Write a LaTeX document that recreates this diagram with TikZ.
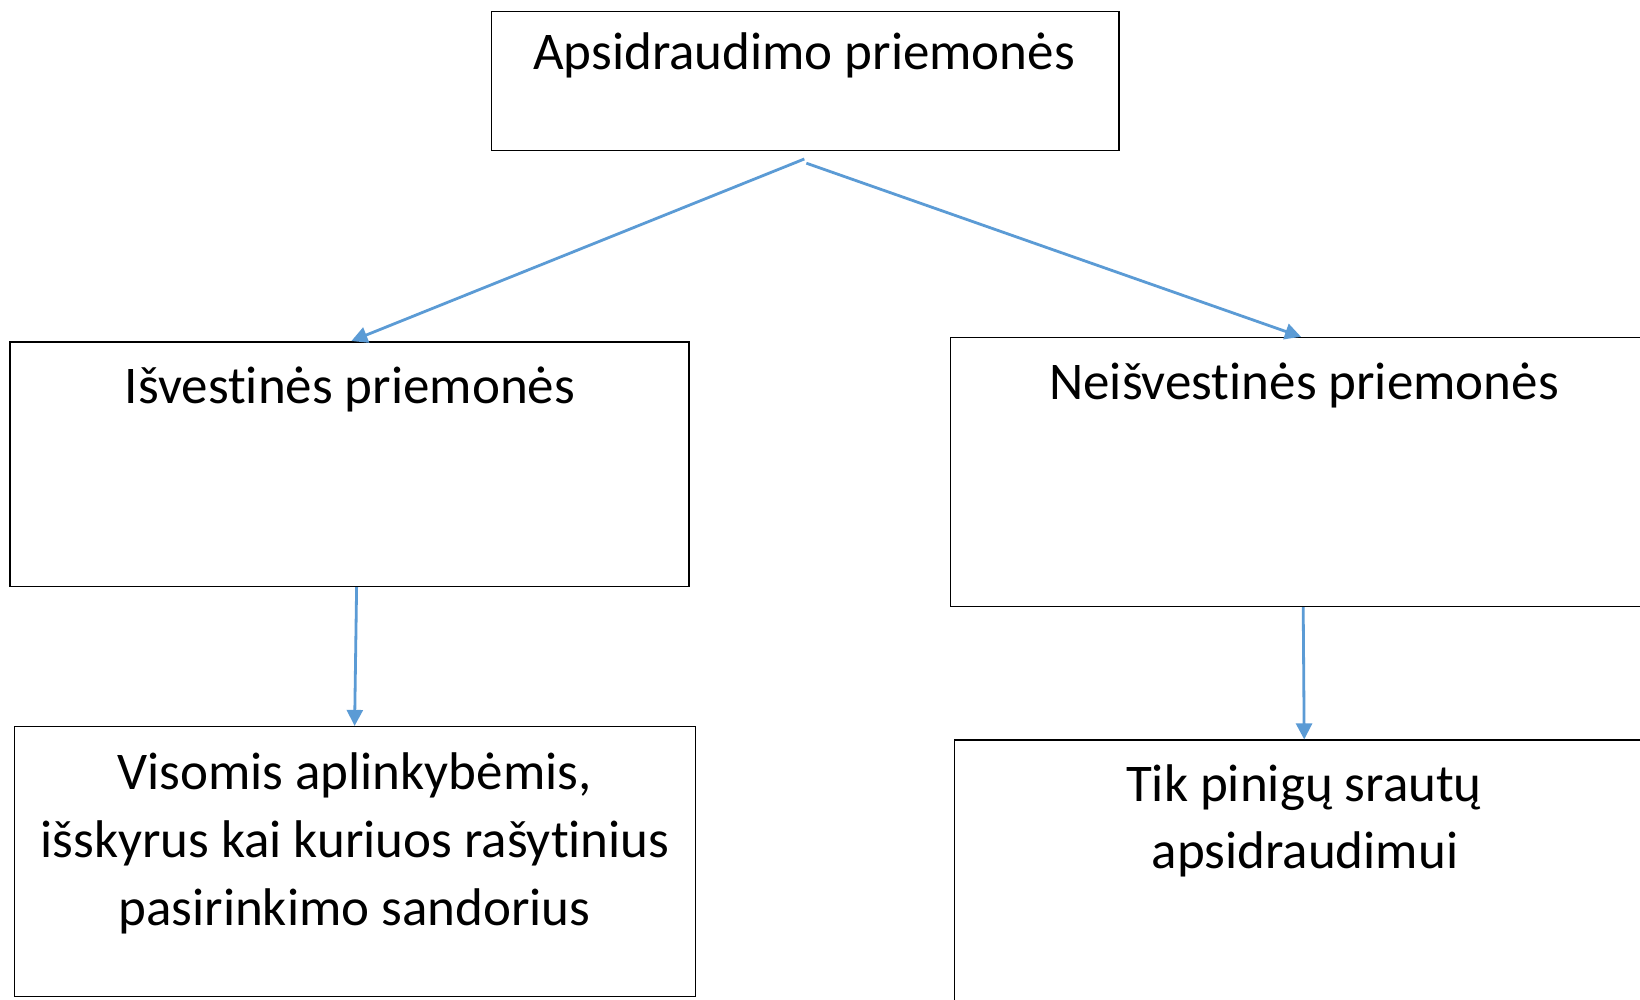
\documentclass[tikz,border=0pt]{standalone}
\usepackage{fontspec}
\setmainfont{Carlito}[Ligatures=NoCommon]
\usetikzlibrary{arrows.meta}
\definecolor{arrblue}{HTML}{5B9BD5}
\begin{document}
\begin{tikzpicture}[x=1pt,y=-1pt,
  box/.style={draw=black, line width=1.5pt, fill=white, rectangle, inner sep=0pt, anchor=north west},
  lbl/.style={font=\fontsize{53}{65}\selectfont, anchor=base, inner sep=0pt},
  arr/.style={draw=arrblue, line width=2.8pt, -{Triangle[length=16pt,width=16pt]}}]
\useasboundingbox (0,0) rectangle (1640,999);
\clip (0,0) rectangle (1640,999);
\fill[white] (0,0) rectangle (1640,999);
% boxes
\node[box, minimum width=627.6pt, minimum height=139pt] (top) at (490.5,10.5) {};
\node[box, minimum width=678.8pt, minimum height=244.7pt] (lm) at (9.4,341) {};
\node[box, minimum width=760pt, minimum height=268.8pt] (rm) at (949.7,336.8) {};
\node[box, minimum width=680.9pt, minimum height=269.8pt] (lb) at (13.6,725.9) {};
\node[box, minimum width=760pt, minimum height=300pt] (rb) at (953.9,739.4) {};
% labels
\node[lbl] (ttop) at (804,69) {Apsidraudimo priemonės};
\node[lbl] (tlm) at (350,403) {Išvestinės priemonės};
\node[lbl] (trm) at (1304,399) {Neišvestinės priemonės};
\node[lbl] (tlb1) at (354.5,789) {Visomis aplinkybėmis,};
\node[lbl] (tlb2) at (355,857) {išskyrus kai kuriuos rašytinius};
\node[lbl] (tlb3) at (354.5,925) {pasirinkimo sandorius};
\node[lbl] (trb1) at (1304,801) {Tik pinigų srautų};
\node[lbl] (trb2) at (1305,868) {apsidraudimui};
% connector endpoints
\coordinate (s1) at (804.3,159);
\coordinate (s2) at (806.4,163.2);
\coordinate (e1) at (351.4,0);
\coordinate (e2) at (1301,0);
\coordinate (v1s) at (356.6,0);
\coordinate (v1e) at (354.6,0);
\coordinate (v2s) at (1303.2,0);
\coordinate (v2e) at (1304.2,0);
% connectors
\draw[arr] (s1) -- (lm.north -| e1);
\draw[arr] (s2) -- (rm.north -| e2);
\draw[arr] (lm.south -| v1s) -- (lb.north -| v1e);
\draw[arr] (rm.south -| v2s) -- (rb.north -| v2e);
\end{tikzpicture}
\end{document}
